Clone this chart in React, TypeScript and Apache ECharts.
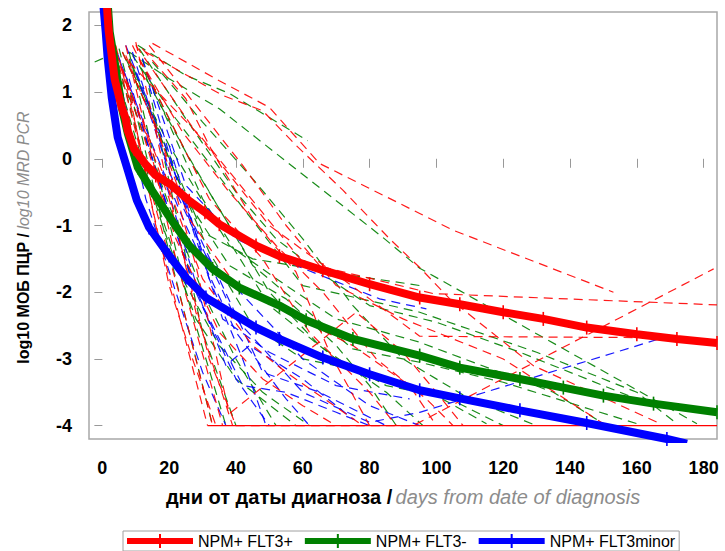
import React, { useEffect, useRef } from "react";
import * as echarts from "echarts";

type Pt = [number, number];

const xTicks = [0, 20, 40, 60, 80, 100, 120, 140, 160, 180];
const yTicks = [-4, -3, -2, -1, 0, 1, 2];

const legendNames = ["NPM+ FLT3+", "NPM+ FLT3-", "NPM+ FLT3minor"];

// Thick summary curves
const redCurve: Pt[] = [
  [1.2, 2.4], [1.9, 1.91], [3.7, 1.19], [5.8, 0.77], [7, 0.6], [7.6, 0.42], [9.5, 0.15],
  [12.7, -0.07], [16, -0.25], [20.8, -0.4], [26, -0.63], [30.7, -0.8], [35, -0.98],
  [46, -1.3], [53, -1.46], [66, -1.67], [80, -1.88], [95, -2.08], [107, -2.18],
  [120, -2.3], [132, -2.4], [145, -2.53], [160, -2.63], [172, -2.7], [184, -2.76],
];
const greenCurve: Pt[] = [
  [1.5, 2.4], [2.2, 1.9], [3.7, 1.45], [5.8, 0.77], [7.6, 0.38], [10.6, -0.13],
  [14.8, -0.47], [19.5, -0.83], [26, -1.3], [33, -1.65], [41, -1.93], [53, -2.2],
  [61, -2.42], [75, -2.7], [95, -2.95], [107, -3.13], [125, -3.3], [138, -3.43],
  [150, -3.55], [165, -3.67], [184, -3.8],
];
const blueCurve: Pt[] = [
  [0.3, 2.3], [1, 1.9], [1.6, 1.5], [2.8, 0.92], [4.6, 0.32], [7.6, -0.17],
  [10.3, -0.62], [14, -1.03], [20, -1.45], [25, -1.78], [31, -2.08], [46, -2.53],
  [53, -2.7], [66, -2.98], [80, -3.23], [95, -3.47], [107, -3.59], [125, -3.77],
  [145, -3.96], [169, -4.2], [175, -4.27],
];

// Individual patients (dashed)
const redPatients: Pt[][] = [
  [[15, 1.73], [35, 1.17], [50, 0.77], [65, -0.07], [95, -0.82], [105, -1.07], [153, -2.0]],
  [[13, 1.6], [36, 0.95], [48, 0.72], [58, 0.2], [72, -0.47], [86, -1.2], [95, -1.63], [104, -2.1], [129, -3.1], [167, -3.97]],
  [[8, 1.45], [30, 0.3], [60, -1.55], [99, -2.02], [184, -2.19]],
  [[10, 1.7], [28, 0.4], [50, -1.0], [80, -2.1], [95, -2.66], [160, -2.68]],
  [[6, 1.35], [20, -0.6], [32, -3.0], [40, -4], [93, -4], [183, -1.65]],
  [[7, 1.55], [18, 0.2], [28, -1.6], [38, -3.82], [53, -3.22], [76, -2.3], [90, -2.9], [100, -3.5], [108, -4]],
  [[4, 1.7], [10, 0.5], [16, -1.0], [31.5, -4]],
  [[7, 1.7], [15, 0], [22, -1.5], [36, -4]],
  [[10, 1.75], [20, -0.5], [28, -2.3], [39, -4]],
  [[5, 1.4], [13, -0.2], [24, -2.2], [33, -4]],
  [[6, 1.6], [16, 0.5], [26, -0.9], [40, -1.9], [55, -2.3], [75, -2.8], [92, -3.4], [100, -4]],
  [[9, 1.7], [20, 0.6], [32, -0.6], [48, -1.5], [62, -2.6], [80, -3.5], [88, -4]],
  [[11, 1.5], [24, 0.4], [38, -0.5], [52, -1.3], [66, -2.0], [82, -3.0], [97, -3.6], [105, -4]],
  [[14, 1.7], [28, 0.8], [42, -0.1], [55, -1.0], [70, -1.9], [90, -2.4], [120, -3.0], [150, -3.97]],
  [[4, 1.6], [12, 0.4], [22, -1.2], [35, -2.6], [48, -3.3], [60, -3.7], [70, -4]],
  [[7, 1.2], [18, -0.2], [30, -1.8], [45, -2.8], [55, -3.2], [78, -4]],
  [[12, 1.65], [25, 0.9], [33, 0.1], [45, -0.9], [58, -1.7], [68, -2.9], [80, -4]],
  [[3, 1.8], [8, 1.0], [14, -0.5], [20, -1.9], [27, -3.0], [34, -4]],
];
const greenPatients: Pt[][] = [
  [[10.6, 1.7], [25, 1.25], [38, 0.98], [61.5, 0.27]],
  [[8, 1.6], [20, 1.2], [35, 0.75], [84, -1.18], [95, -1.64], [178, -3.97]],
  [[9, 1.55], [22, 0.6], [40, -0.6], [60, -1.9], [95, -2.3], [130, -2.9], [160, -3.5], [172, -3.97]],
  [[11, 1.4], [25, 0.1], [45, -1.6], [75, -2.85], [95, -3.05], [120, -3.35], [160, -3.97]],
  [[7, 1.5], [20, 0.2], [38, -1.3], [55, -1.9], [70, -2.4], [95, -2.75], [135, -3.5], [150, -3.97]],
  [[13, 1.3], [30, -0.6], [50, -2.2], [70, -3.0], [85, -3.4], [100, -3.55], [115, -3.97]],
  [[5, 1.65], [12, 0.3], [19, -1.2], [33, -4]],
  [[8, 1.6], [17, -0.3], [25, -2.0], [37, -4]],
  [[12, 1.5], [22, -0.8], [30, -2.6], [40, -4]],
  [[8, 1.5], [18, 0.3], [30, -1.1], [45, -1.5], [75, -1.75], [95, -1.9]],
  [[6, 1.6], [15, 0.6], [25, -0.6], [38, -1.6], [55, -2.1], [70, -2.8], [80, -3.4], [88, -4]],
  [[9, 1.4], [20, 0.0], [32, -1.4], [45, -2.5], [60, -3.0], [80, -3.2], [100, -3.5], [120, -4]],
  [[11, 1.65], [25, 0.6], [40, -0.5], [52, -1.2], [65, -1.7], [80, -2.2], [100, -2.45], [125, -2.9], [145, -3.3], [160, -3.6]],
  [[13, 1.3], [26, 0.0], [38, -1.0], [50, -2.0], [65, -2.8], [85, -3.5], [96, -4]],
  [[3, 1.5], [10, 0.3], [18, -1.0], [28, -2.4], [40, -3.3], [58, -4]],
  [[-2.3, 1.45], [2.2, 1.55], [10, 0.7], [20, -0.7], [30, -2.0], [40, -3.0], [52, -4]],
  [[6, 1.2], [14, -0.3], [24, -1.8], [35, -2.8], [48, -3.5], [62, -4]],
  [[15, 1.45], [30, 0.55], [45, -0.3], [60, -1.2], [75, -2.2], [90, -3.0], [110, -3.6], [130, -4]],
];
const bluePatients: Pt[][] = [
  [[5, 1.5], [15, 0.2], [25, -1.0], [40, -2.6], [55, -3.6], [62, -4]],
  [[7, 1.7], [18, 0.3], [30, -1.4], [45, -2.2], [60, -3.0], [80, -3.7], [95, -4]],
  [[10, 1.3], [20, -0.2], [35, -1.8], [48, -3.2], [65, -3.5], [85, -4]],
  [[12, 1.5], [25, -0.4], [40, -1.2], [53, -1.5], [83, -2.1], [97, -2.25]],
  [[8, 1.2], [16, -0.2], [28, -2.0], [40, -3.3], [50, -4]],
  [[14, 1.1], [24, -0.6], [36, -2.4], [50, -2.9], [70, -3.4], [92, -3.6]],
  [[20, 0.2], [32, -1.8], [42, -3.0], [49, -4]],
  [[18, -0.2], [30, -2.2], [37, -3.1], [44, -2.8], [60, -3.3], [75, -3.9]],
  [[3, 1.8], [10, 0.8], [20, -0.8], [30, -2.2], [42, -3.4], [55, -3.5], [70, -3.8], [80, -4]],
  [[9, 1.6], [22, -0.5], [40, -2.4], [60, -3.5], [80, -3.95], [95, -3.8], [168, -2.68]],
  [[6, 1.0], [13, -0.6], [22, -2.0], [30, -3.2], [37, -4]],
];
const floorLine: Pt[] = [[31.5, -4], [184, -4]];

const RED = "#ff0000";
const GREEN = "#008000";
const BLUE = "#0000ff";
const FONT = 'Arial, "Liberation Sans", sans-serif';

function dashed(paths: Pt[][], color: string) {
  return paths.map((p) => ({
    type: "line",
    data: p,
    symbol: "none",
    silent: true,
    z: 2,
    lineStyle: { color, width: 1.2, type: [9, 6], opacity: 0.9 },
  }));
}

function thick(name: string, data: Pt[], color: string, z: number) {
  return {
    type: "line",
    name,
    data,
    symbol: "rect",
    symbolSize: [1.6, 14],
    showSymbol: true,
    z,
    itemStyle: { color },
    lineStyle: { color, width: 8 },
  };
}

export default function App() {
  const ref = useRef<HTMLDivElement>(null);
  useEffect(() => {
    const chart = echarts.init(ref.current!, null, { renderer: "svg" });
    const option: any = {
      animation: false,
      grid: {
        left: 89,
        right: 8,
        top: 12,
        bottom: 112,
        show: true,
        borderColor: "#a8a8a8",
        borderWidth: 1.5,
      },
      legend: {
        data: legendNames,
        top: 531,
        left: 123,
        icon: "path://M0,4L66,4L66,10L0,10Z M32,0L34,0L34,14L32,14Z",
        itemWidth: 66,
        itemHeight: 14,
        itemGap: 12,
        padding: [2, 4, 2, 4],
        borderColor: "#a0a0a0",
        borderWidth: 1,
        textStyle: { fontSize: 16, color: "#000", fontFamily: FONT },
      },
      xAxis: {
        type: "value",
        min: -4,
        max: 184,
        axisLine: { show: false },
        splitLine: { show: false },
        axisTick: { show: true, customValues: xTicks, length: 9, lineStyle: { color: "#999" } },
        axisLabel: {
          customValues: xTicks,
          margin: 20,
          fontSize: 18,
          fontWeight: "bold",
          color: "#000",
          fontFamily: FONT,
        },
        name: "{b|дни от даты диагноза /} {i|days from date of diagnosis}",
        nameLocation: "middle",
        nameGap: 48,
        nameTextStyle: {
          rich: {
            b: { fontSize: 20, fontWeight: "bold", color: "#000", fontFamily: FONT },
            i: { fontSize: 20, fontStyle: "italic", color: "#8c8c8c", fontFamily: FONT },
          },
        },
      },
      yAxis: {
        type: "value",
        min: -4.2,
        max: 2.2,
        axisLine: { show: false },
        splitLine: { show: false },
        axisTick: { show: true, customValues: yTicks, length: 8, lineStyle: { color: "#999" } },
        axisLabel: {
          customValues: yTicks,
          margin: 17,
          fontSize: 18,
          fontWeight: "bold",
          color: "#000",
          fontFamily: FONT,
        },
        name: "{b|log10 МОБ ПЦР /} {i|log10 MRD PCR}",
        nameLocation: "middle",
        nameGap: 58,
        nameTextStyle: {
          padding: [0, 24, 0, 0],
          rich: {
            b: { fontSize: 16, fontWeight: "bold", color: "#000", fontFamily: FONT },
            i: { fontSize: 16, fontStyle: "italic", color: "#8c8c8c", fontFamily: FONT },
          },
        },
      },
      series: [
        ...dashed(greenPatients, GREEN),
        ...dashed(bluePatients, BLUE),
        ...dashed(redPatients, RED),
        {
          type: "line",
          data: floorLine,
          symbol: "none",
          silent: true,
          z: 3,
          lineStyle: { color: RED, width: 1.3 },
        },
        thick(legendNames[2], blueCurve, BLUE, 5),
        thick(legendNames[1], greenCurve, GREEN, 6),
        thick(legendNames[0], redCurve, RED, 7),
      ],
    };
    chart.setOption(option);
    return () => chart.dispose();
  }, []);
  return (
    <div
      ref={ref}
      style={{ position: "fixed", left: 0, top: 0, width: 725, height: 551, background: "#fff" }}
    />
  );
}
